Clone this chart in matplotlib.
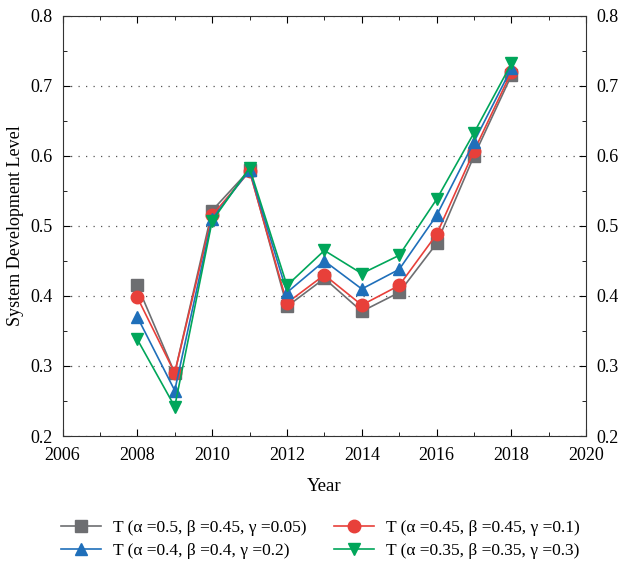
import matplotlib
matplotlib.use("Agg")
import matplotlib.pyplot as plt
from matplotlib.ticker import MultipleLocator

years = [2008, 2009, 2010, 2011, 2012, 2013, 2014, 2015, 2016, 2017, 2018]
s1 = [0.415, 0.290, 0.522, 0.580, 0.385, 0.425, 0.378, 0.405, 0.475, 0.600, 0.715]
s2 = [0.398, 0.290, 0.515, 0.578, 0.390, 0.430, 0.387, 0.415, 0.488, 0.607, 0.720]
s3 = [0.370, 0.265, 0.510, 0.580, 0.405, 0.450, 0.410, 0.438, 0.515, 0.620, 0.725]
s4 = [0.338, 0.242, 0.507, 0.583, 0.415, 0.465, 0.432, 0.458, 0.538, 0.633, 0.732]
labels = ["T (α =0.5, β =0.45, γ =0.05)", "T (α =0.45, β =0.45, γ =0.1)",
          "T (α =0.4, β =0.4, γ =0.2)", "T (α =0.35, β =0.35, γ =0.3)"]

plt.rcParams['font.family'] = ['Liberation Serif', 'DejaVu Serif']
fig = plt.figure(figsize=(6.25, 5.67), dpi=100)
ax = fig.add_axes([0.1, 0.231, 0.838, 0.741])

styles = [("#6d6e71", "s", 8), ("#e8403a", "o", 9), ("#1f6fba", "^", 9), ("#00a65a", "v", 9)]
handles = []
for s, lab, (c, m, ms) in zip([s1, s2, s3, s4], labels, styles):
    h, = ax.plot(years, s, color=c, marker=m, markersize=ms, lw=1.2, label=lab)
    handles.append(h)

ax.set_xlim(2006, 2020)
ax.set_ylim(0.2, 0.8)
ax.xaxis.set_major_locator(MultipleLocator(2))
ax.xaxis.set_minor_locator(MultipleLocator(1))
ax.yaxis.set_major_locator(MultipleLocator(0.1))
ax.yaxis.set_minor_locator(MultipleLocator(0.05))
ax.tick_params(which='both', direction='in', top=True, right=True, labelright=True, labelsize=13)
ax.tick_params(which='major', length=5)
ax.tick_params(which='minor', length=3)
ax.tick_params(axis='x', pad=8)
ax.tick_params(axis='y', pad=7)
ax.grid(axis='y', which='major', linestyle=(0, (1, 5)), color='#555555', lw=0.9)
for sp in ax.spines.values():
    sp.set_color('#333333')
ax.set_xlabel("Year", fontsize=13.5, labelpad=10)
ax.set_ylabel("System Development Level", fontsize=13, labelpad=5)

order = [0, 2, 1, 3]
fig.legend(handles=[handles[i] for i in order], labels=[labels[i] for i in order],
           loc='lower left', bbox_to_anchor=(0.078, -0.008), ncol=2, borderaxespad=0.3,
           frameon=False, fontsize=12.5, columnspacing=1.6, handlelength=2.3,
           labelspacing=0.4, handletextpad=0.7)
fig.savefig("out.png", dpi=100)
